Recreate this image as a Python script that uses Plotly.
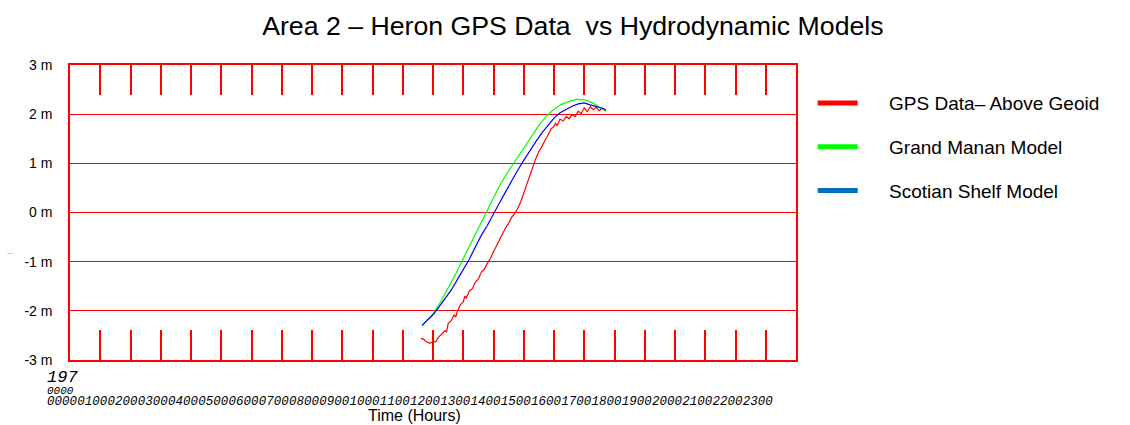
import plotly.graph_objects as go

# GPS data (hours, metres above geoid)
gps_hours = [11.60, 11.70, 11.75, 11.80, 11.90, 12.00, 12.10, 12.15, 12.20, 12.30, 12.40, 12.45,
             12.50, 12.60, 12.70, 12.75, 12.80, 12.90, 13.00, 13.05, 13.10, 13.20, 13.30, 13.40,
             13.50, 13.60, 13.70, 13.80, 13.90, 14.00, 14.10, 14.20, 14.30, 14.40, 14.50, 14.60,
             14.70, 14.80, 14.90, 15.00, 15.10, 15.20, 15.30, 15.40, 15.50, 15.60, 15.70, 15.80,
             15.90, 16.00, 16.05, 16.10, 16.20, 16.30, 16.40, 16.50, 16.60, 16.70, 16.80, 16.90,
             17.00, 17.10, 17.20, 17.30, 17.40, 17.50, 17.60, 17.70]
gps_level = [-2.56, -2.58, -2.62, -2.63, -2.66, -2.62, -2.63, -2.56, -2.53, -2.48, -2.40, -2.43,
             -2.26, -2.20, -2.08, -2.13, -2.02, -1.88, -1.82, -1.70, -1.74, -1.60, -1.55, -1.42,
             -1.35, -1.21, -1.15, -1.03, -0.93, -0.80, -0.67, -0.56, -0.42, -0.31, -0.22, -0.10,
             -0.02, 0.08, 0.22, 0.40, 0.56, 0.76, 0.95, 1.10, 1.24, 1.34, 1.47, 1.57,
             1.70, 1.75, 1.82, 1.76, 1.90, 1.86, 1.95, 1.91, 1.99, 1.95, 2.06, 2.01,
             2.13, 2.05, 2.15, 2.09, 2.14, 2.07, 2.12, 2.09]

# Grand Manan model
gm_hours = [11.64, 11.80, 12.00, 12.25, 12.50, 12.75, 13.00, 13.25, 13.50, 13.75, 14.00, 14.25,
            14.50, 14.75, 15.00, 15.25, 15.50, 15.75, 16.00, 16.25, 16.50, 16.75, 17.00, 17.25,
            17.50, 17.72]
gm_level = [-2.31, -2.20, -2.06, -1.82, -1.55, -1.25, -0.94, -0.62, -0.32, -0.01, 0.30, 0.60,
            0.85, 1.08, 1.32, 1.55, 1.77, 1.96, 2.10, 2.20, 2.26, 2.30, 2.29, 2.24,
            2.15, 2.06]

# Scotian Shelf model
ss_hours = [11.64, 11.80, 12.00, 12.20, 12.40, 12.60, 12.80, 13.00, 13.20, 13.40, 13.60, 13.80,
            14.00, 14.20, 14.40, 14.60, 14.80, 15.00, 15.20, 15.40, 15.60, 15.80, 16.00, 16.20,
            16.40, 16.60, 16.80, 17.00, 17.20, 17.40, 17.60, 17.72]
ss_level = [-2.29, -2.20, -2.08, -1.92, -1.75, -1.58, -1.37, -1.17, -0.95, -0.70, -0.46, -0.26,
            -0.02, 0.20, 0.42, 0.65, 0.86, 1.06, 1.26, 1.44, 1.62, 1.76, 1.92, 2.03,
            2.10, 2.16, 2.21, 2.23, 2.19, 2.16, 2.12, 2.08]

hour_ticks = list(range(24))
hour_labels = ["%02d00" % h for h in hour_ticks]
level_ticks = [-3, -2, -1, 0, 1, 2, 3]
level_labels = ["%d m" % v for v in level_ticks]

FONT = "Liberation Sans, Arial, sans-serif"
MONO = "Liberation Mono, monospace"
RED = "#ff0000"

fig = go.Figure()

# plotted lines (legend drawn by separate thick entries below)
fig.add_trace(go.Scatter(x=gps_hours, y=gps_level, mode="lines", line=dict(color="#ff0000", width=1.2), showlegend=False))
fig.add_trace(go.Scatter(x=gm_hours, y=gm_level, mode="lines", line=dict(color="#00ff00", width=1.2), showlegend=False))
fig.add_trace(go.Scatter(x=ss_hours, y=ss_level, mode="lines", line=dict(color="#0000ff", width=1.2), showlegend=False))

legend_items = [("GPS Data\u2013 Above Geoid", "#ff0000"),
                ("Grand Manan Model", "#00ff00"),
                ("Scotian Shelf Model", "#0070c0")]
pad = "\u00a0" * 5
for name, col in legend_items:
    fig.add_trace(go.Scatter(x=[None], y=[None], mode="lines", name=pad + name, legendgroup=name,
                             line=dict(color=col, width=5)))

fig.update_layout(
    width=1130, height=425,
    margin=dict(l=70, r=334, t=65, b=65, autoexpand=False),
    paper_bgcolor="white", plot_bgcolor="white",
    title=dict(text="Area 2 \u2013 Heron GPS Data  vs Hydrodynamic Models", x=0.507, xanchor="center",
               y=0.94, yanchor="middle", font=dict(family=FONT, size=26.7, color="black")),
    legend=dict(x=1.023, y=0.935, xanchor="left", yanchor="top", font=dict(family=FONT, size=19, color="black"),
                tracegroupgap=16, itemwidth=40, bgcolor="rgba(0,0,0,0)"),
    showlegend=True,
)

fig.update_xaxes(
    range=[0, 24], tickmode="array", tickvals=hour_ticks, ticktext=hour_labels, tickangle=0,
    ticks="inside", ticklen=30, tickwidth=1.5, tickcolor=RED,
    showline=True, linecolor=RED, linewidth=1.5, mirror="ticks",
    showgrid=False, zeroline=False, automargin=False,
    tickfont=dict(family=MONO, size=12.5, color="black", style="italic"),
    ticklabelstandoff=28, ticklabelshift=-8,
)
fig.update_yaxes(
    range=[-3, 3], tickmode="array", tickvals=level_ticks, ticktext=level_labels,
    ticks="", showline=True, linecolor=RED, linewidth=1.5, mirror=True,
    showgrid=True, gridcolor=RED, gridwidth=1.3, zeroline=False, automargin=False,
    tickfont=dict(family=FONT, size=14, color="black"), ticklabelstandoff=13,
)

fig.add_annotation(text="Time (Hours)", x=0.475, xref="paper", y=-0.188, yref="paper",
                   xanchor="center", yanchor="middle", showarrow=False,
                   font=dict(family=FONT, size=16, color="black"))
fig.add_annotation(text="197", x=0, xref="x", y=-0.06, yref="paper", xanchor="left", yanchor="middle",
                   xshift=-25, showarrow=False,
                   font=dict(family=MONO, size=17, color="black", style="italic"))
fig.add_annotation(text="0000", x=0, xref="x", y=-0.106, yref="paper", xanchor="left", yanchor="middle",
                   xshift=-25, showarrow=False,
                   font=dict(family=MONO, size=11, color="black", style="italic"))
# tiny stray axis-title mark left of the -1 m label
fig.add_annotation(text="\u2014", x=-0.083, xref="paper", y=0.363, yref="paper", xanchor="center",
                   yanchor="middle", showarrow=False, font=dict(family=FONT, size=6, color="#888888"))

# page has a default body margin; remove it so the figure fills the window
fig.write_html("out.html", config={"displayModeBar": False},
               post_script="document.body.style.margin='0';")
